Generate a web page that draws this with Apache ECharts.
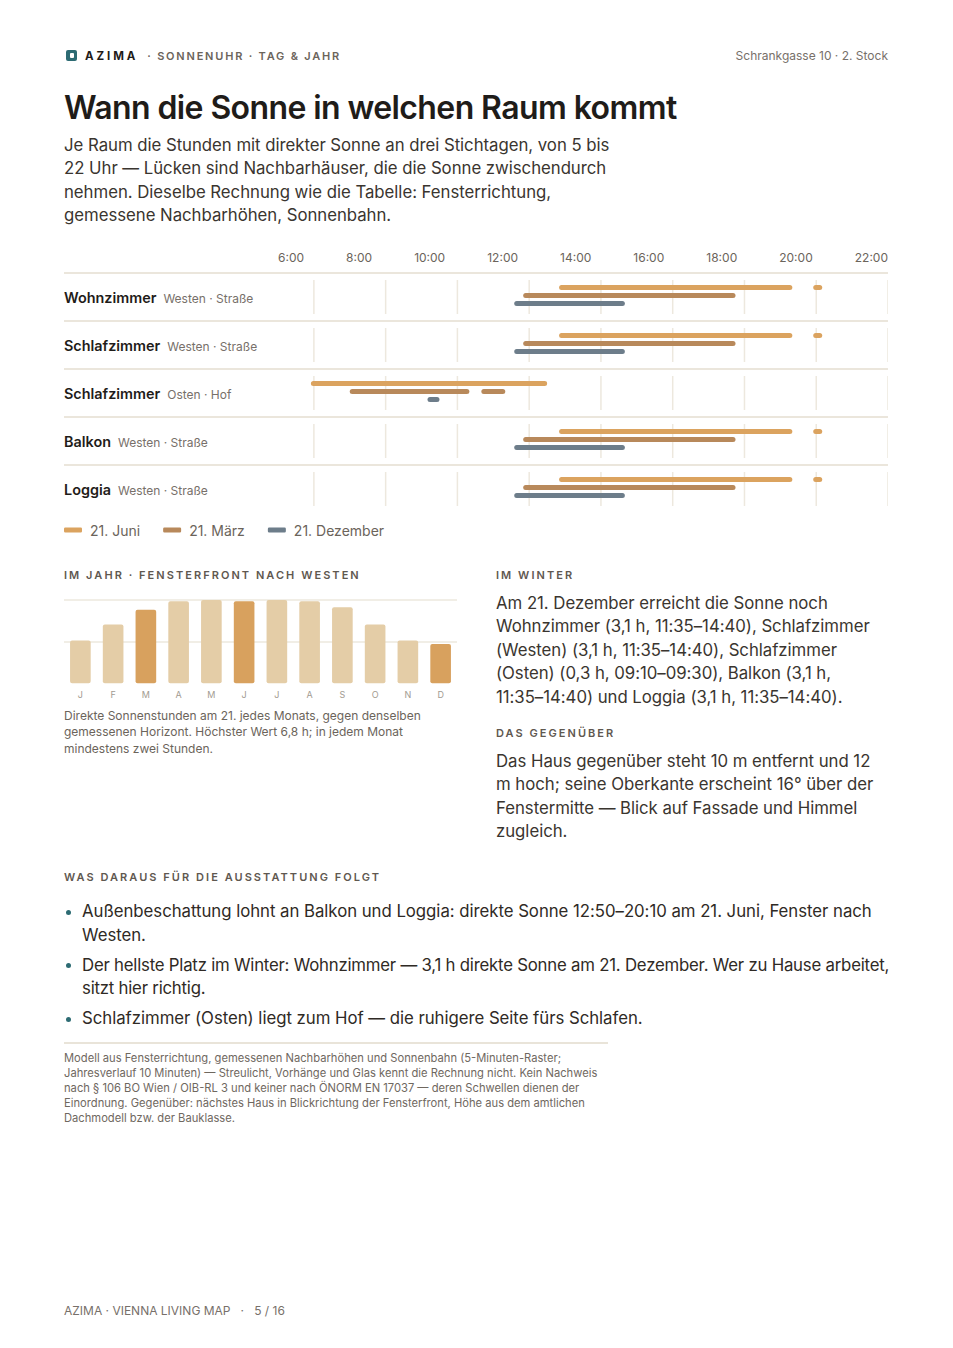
<!DOCTYPE html>
<html lang="de">
<head>
<meta charset="utf-8">
<script src="https://cdn.jsdelivr.net/npm/echarts@6/dist/echarts.min.js"></script>
<style>
  html,body{margin:0;padding:0;background:#fff;}
  body{font-family:Inter, "Noto Sans", sans-serif;color:#2a2622;}
  #page{position:relative;width:953px;height:1348px;overflow:hidden;}
  .a{position:absolute;}
  .hdr{top:49px;left:64px;height:14px;line-height:14px;font-size:11px;white-space:nowrap;}
  .logo{display:inline-block;width:11px;height:11px;border-radius:2px;background:#2d6b73;position:relative;vertical-align:-1px;margin-right:8px;margin-left:2px;}
  .logo:after{content:"";position:absolute;left:3.5px;top:3px;width:4px;height:5px;border-radius:1px;background:#fff;}
  .brand{font-weight:700;letter-spacing:2.9px;color:#1f1c19;font-size:11.5px;}
  .crumb{font-weight:600;letter-spacing:1.8px;color:#6b645b;margin-left:9px;}
  .addr{top:49px;right:65px;line-height:14px;font-size:12px;color:#77706a;}
  h1{position:absolute;margin:0;top:88px;left:64px;font-size:32px;line-height:40px;font-weight:600;letter-spacing:-0.6px;color:#1f1c19;white-space:nowrap;}
  .intro{top:133.5px;left:64px;width:560px;font-size:16.8px;line-height:23.5px;letter-spacing:-0.04px;color:#3a352f;}
  .sec{font-size:11px;line-height:14px;font-weight:600;letter-spacing:2.05px;color:#5f5850;white-space:nowrap;}
  .body17{font-size:16.8px;line-height:23.5px;letter-spacing:-0.04px;color:#3a352f;}
  .cap{top:707.5px;left:64px;width:395px;font-size:12px;line-height:16.7px;color:#6b645b;}
  ul.list{position:absolute;top:900px;left:64px;width:846px;margin:0;padding:0;list-style:none;}
  ul.list li{position:relative;padding-left:18px;margin-bottom:6.5px;font-size:16.8px;line-height:23.5px;letter-spacing:-0.04px;color:#2f2a25;}
  ul.list li.tight{letter-spacing:-0.22px;}
  ul.list li:before{content:"";position:absolute;left:1.5px;top:9.5px;width:5px;height:5px;border-radius:50%;background:#2d6b73;}
  .rule{top:1042px;left:64px;width:544px;height:2px;background:#e9e4d9;}
  .foot{top:1051px;left:64px;width:546px;font-size:11.2px;line-height:15px;color:#6f685f;}
  .pager{top:1303px;left:64px;font-size:12px;line-height:16px;color:#77706a;white-space:nowrap;}
</style>
</head>
<body>
<div id="page">
  <div class="a hdr"><span class="logo"></span><span class="brand">AZIMA</span><span class="crumb">· SONNENUHR · TAG &amp; JAHR</span></div>
  <div class="a addr">Schrankgasse 10 · 2. Stock</div>
  <h1>Wann die Sonne in welchen Raum kommt</h1>
  <div class="a intro">Je Raum die Stunden mit direkter Sonne an drei Stichtagen, von 5 bis 22 Uhr — Lücken sind Nachbarhäuser, die die Sonne zwischendurch nehmen. Dieselbe Rechnung wie die Tabelle: Fensterrichtung, gemessene Nachbarhöhen, Sonnenbahn.</div>

  <div id="gantt" class="a" style="left:64px;top:245px;width:824px;height:300px;"></div>

  <div class="a sec" style="top:568px;left:64px;">IM JAHR · FENSTERFRONT NACH WESTEN</div>
  <div id="year" class="a" style="left:64px;top:590px;width:393px;height:112px;"></div>
  <div class="a cap">Direkte Sonnenstunden am 21. jedes Monats, gegen denselben gemessenen Horizont. Höchster Wert 6,8 h; in jedem Monat mindestens zwei Stunden.</div>

  <div class="a sec" style="top:568px;left:496px;">IM WINTER</div>
  <div class="a body17" style="top:591.5px;left:496px;width:380px;">Am 21. Dezember erreicht die Sonne noch Wohnzimmer (3,1 h, 11:35–14:40), Schlafzimmer (Westen) (3,1 h, 11:35–14:40), Schlafzimmer (Osten) (0,3 h, 09:10–09:30), Balkon (3,1 h, 11:35–14:40) und Loggia (3,1 h, 11:35–14:40).</div>
  <div class="a sec" style="top:726px;left:496px;">DAS GEGENÜBER</div>
  <div class="a body17" style="top:749.5px;left:496px;width:380px;">Das Haus gegenüber steht 10 m entfernt und 12 m hoch; seine Oberkante erscheint 16° über der Fenstermitte — Blick auf Fassade und Himmel zugleich.</div>

  <div class="a sec" style="top:870px;left:64px;">WAS DARAUS FÜR DIE AUSSTATTUNG FOLGT</div>
  <ul class="list">
    <li>Außenbeschattung lohnt an Balkon und Loggia: direkte Sonne 12:50–20:10 am 21. Juni, Fenster nach Westen.</li>
    <li class="tight">Der hellste Platz im Winter: Wohnzimmer — 3,1 h direkte Sonne am 21. Dezember. Wer zu Hause arbeitet, sitzt hier richtig.</li>
    <li>Schlafzimmer (Osten) liegt zum Hof — die ruhigere Seite fürs Schlafen.</li>
  </ul>
  <div class="a rule"></div>
  <div class="a foot">Modell aus Fensterrichtung, gemessenen Nachbarhöhen und Sonnenbahn (5-Minuten-Raster; Jahresverlauf 10 Minuten) — Streulicht, Vorhänge und Glas kennt die Rechnung nicht. Kein Nachweis nach § 106 BO Wien / OIB-RL 3 und keiner nach ÖNORM EN 17037 — deren Schwellen dienen der Einordnung. Gegenüber: nächstes Haus in Blickrichtung der Fensterfront, Höhe aus dem amtlichen Dachmodell bzw. der Bauklasse.</div>
  <div class="a pager">AZIMA · VIENNA LIVING MAP &nbsp; · &nbsp; 5 / 16</div>
</div>

<script>
// ---------- data ----------
const hourLabels = ['6:00','8:00','10:00','12:00','14:00','16:00','18:00','20:00','22:00'];
const gridHours  = [6, 8, 10, 12, 14, 16, 18, 20, 22];
const dayStart = 5, dayEnd = 22;

const roomNames = ['Wohnzimmer','Schlafzimmer','Schlafzimmer','Balkon','Loggia'];
const roomSides = ['Westen · Straße','Westen · Straße','Osten · Hof','Westen · Straße','Westen · Straße'];

const dayNames = ['21. Juni','21. März','21. Dezember'];
// [room index, from, to]
const juneSun = [
  [0,'12:50','19:20'],[0,'19:55','20:10'],
  [1,'12:50','19:20'],[1,'19:55','20:10'],
  [2,'05:55','12:30'],
  [3,'12:50','19:20'],[3,'19:55','20:10'],
  [4,'12:50','19:20'],[4,'19:55','20:10']
];
const marchSun = [
  [0,'11:50','17:45'],
  [1,'11:50','17:45'],
  [2,'07:00','10:20'],[2,'10:40','11:20'],
  [3,'11:50','17:45'],
  [4,'11:50','17:45']
];
const decemberSun = [
  [0,'11:35','14:40'],
  [1,'11:35','14:40'],
  [2,'09:10','09:30'],
  [3,'11:35','14:40'],
  [4,'11:35','14:40']
];

const months = ['J','F','M','A','M','J','J','A','S','O','N','D'];
const monthlyHours = [3.5, 4.8, 6.0, 6.7, 6.8, 6.7, 6.8, 6.7, 6.2, 4.8, 3.5, 3.2];
const keyMonths = [2, 5, 11];

// ---------- styles ----------
const FONT = 'Inter';
const C_JUNE = '#dba35f', C_MARCH = '#b8895b', C_DEC = '#6d7d8a';
const C_LINE = '#ebe6dc', C_GRID = '#ede8de';

function toH(s){ const p = s.split(':'); return +p[0] + (+p[1])/60; }

// ---------- gantt ----------
const gantt = echarts.init(document.getElementById('gantt'), null, {renderer:'svg'});
const G_LEFT = 214, G_W = 824 - G_LEFT, G_TOP = 28, ROW_H = 48;

// tick labels spread like a space-between row over the day span
const mctx = document.createElement('canvas').getContext('2d');
mctx.font = '12px ' + FONT;
const lw = hourLabels.map(t => mctx.measureText(t).width);
const gap = (G_W - lw.reduce((a,b)=>a+b,0)) / (hourLabels.length - 1);
const labelPos = []; let acc = 0;
lw.forEach(w => { labelPos.push(dayStart + (acc + w/2) / G_W * (dayEnd - dayStart)); acc += w + gap; });
const labelMap = new Map(labelPos.map((v,i)=>[v.toFixed(4), hourLabels[i]]));

const roomKeys = roomNames.map((n,i)=>n + ' ' + roomSides[i]);

function sunSeries(name, rows, color, offset){
  return {
    type:'custom', name, xAxisIndex:1, yAxisIndex:1, z:3,
    itemStyle:{color}, clip:false,
    encode:{x:[1,2], y:0},
    data: rows.map(r => [r[0], toH(r[1]), toH(r[2])]),
    renderItem:(params, api) => {
      const y = api.value(0);
      const a = api.coord([api.value(1), y]);
      const b = api.coord([api.value(2), y]);
      const h = 5;
      return {type:'rect', shape:{x:a[0], y:a[1] + offset - h/2, width:b[0]-a[0], height:h, r:h/2}, style:{fill:color}};
    }
  };
}

const gridSegs = [];
roomNames.forEach((_, r) => gridHours.forEach(h => gridSegs.push([r, h])));

gantt.setOption({
  animation:false,
  textStyle:{fontFamily:FONT},
  legend:{
    data:dayNames, left:0, top:278, padding:0, itemWidth:18, itemHeight:5, itemGap:23, icon:'roundRect',
    textStyle:{fontFamily:FONT, fontSize:14, color:'#6b645b', padding:[0,0,0,3]}
  },
  grid:[
    {left:0, right:0, top:G_TOP, height:ROW_H*roomNames.length, outerBoundsMode:'none', containLabel:false},
    {left:G_LEFT, right:0, top:G_TOP, height:ROW_H*roomNames.length, outerBoundsMode:'none', containLabel:false}
  ],
  xAxis:[
    {gridIndex:0, type:'value', show:false, min:0, max:1},
    {gridIndex:1, type:'value', min:dayStart, max:dayEnd, position:'top',
     axisLine:{show:false}, axisTick:{show:false}, splitLine:{show:false},
     axisLabel:{customValues:labelPos, formatter:(v)=>labelMap.get((+v).toFixed(4)) || '',
                color:'#6b645b', fontSize:12, fontFamily:FONT, margin:10, showMinLabel:true, showMaxLabel:true}}
  ],
  yAxis:[
    {gridIndex:0, type:'category', data:roomKeys, inverse:true,
     axisLine:{show:false}, axisTick:{show:false},
     splitLine:{show:true, showMaxLine:false, lineStyle:{color:C_LINE, width:2}},
     axisLabel:{inside:true, margin:0, align:'left',
       formatter:(v, i) => '{n|' + roomNames[i] + '}{d|' + roomSides[i] + '}',
       rich:{
         n:{fontFamily:FONT, fontSize:14.4, fontWeight:600, color:'#1f1c19'},
         d:{fontFamily:FONT, fontSize:12, color:'#77706a', padding:[2,0,0,7]}
       }}},
    {gridIndex:1, type:'category', data:roomKeys, inverse:true, show:false}
  ],
  series:[
    {
      type:'custom', name:'grid', xAxisIndex:1, yAxisIndex:1, z:1, silent:true,
      data:gridSegs, encode:{x:1, y:0},
      renderItem:(params, api) => {
        const p = api.coord([api.value(1), api.value(0)]);
        const bh = api.size([0, 1])[1];
        return {type:'line', shape:{x1:p[0], y1:p[1]-bh/2+7, x2:p[0], y2:p[1]+bh/2-7},
                style:{stroke:C_GRID, lineWidth:1.5}};
      }
    },
    sunSeries(dayNames[0], juneSun, C_JUNE, -9.5),
    sunSeries(dayNames[1], marchSun, C_MARCH, -1.5),
    sunSeries(dayNames[2], decemberSun, C_DEC, 6.5)
  ]
});

// ---------- year chart ----------
const year = echarts.init(document.getElementById('year'), null, {renderer:'svg'});
year.setOption({
  animation:false,
  textStyle:{fontFamily:FONT},
  grid:{left:0, right:0, top:10, bottom:18.7, outerBoundsMode:'none', containLabel:false},
  xAxis:{type:'category', data:months, axisLine:{show:false}, axisTick:{show:false},
    axisLabel:{color:'#a29b91', fontSize:9, fontFamily:FONT, margin:7}},
  yAxis:{type:'value', min:0, max:6.8, interval:3.4, axisLabel:{show:false},
    axisLine:{show:false}, axisTick:{show:false},
    splitLine:{show:true, showMinLine:false, lineStyle:{color:C_GRID, width:1.5}}},
  series:[{
    type:'bar', barCategoryGap:'37%',
    data: monthlyHours.map((v,i)=>({value:v, itemStyle:{color: keyMonths.indexOf(i) >= 0 ? '#d8a15e' : '#e4cda7'}})),
    itemStyle:{borderRadius:2}
  }]
});
</script>
</body>
</html>
